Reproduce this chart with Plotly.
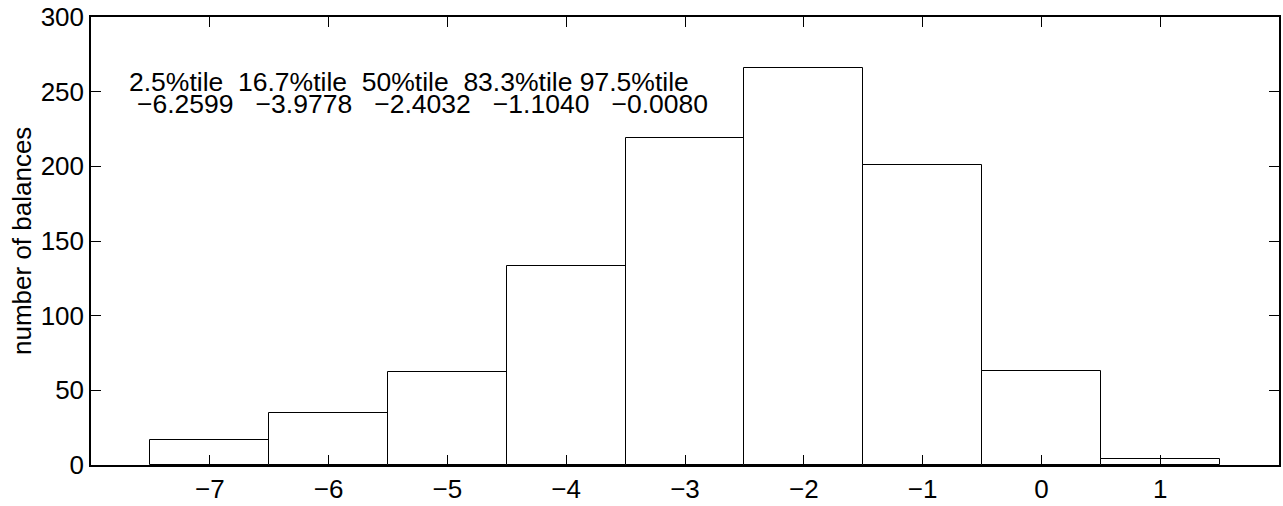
import plotly.graph_objects as go

bin_centers = [-7, -6, -5, -4, -3, -2, -1, 0, 1]
counts = [17, 35, 62, 133, 219, 266, 201, 63, 4]
pct_labels = ["2.5%tile", "16.7%tile", "50%tile", "83.3%tile", "97.5%tile"]
pct_values = ["\u22126.2599", "\u22123.9778", "\u22122.4032", "\u22121.1040", "\u22120.0080"]
x_ticks = [-7, -6, -5, -4, -3, -2, -1, 0, 1]
x_ticklabels = ["\u22127", "\u22126", "\u22125", "\u22124", "\u22123", "\u22122", "\u22121", "0", "1"]
y_ticks = [0, 50, 100, 150, 200, 250, 300]

FONT = "Liberation Sans, Arial, Helvetica, sans-serif"

fig = go.Figure()
fig.add_trace(go.Bar(
    x=bin_centers, y=counts, width=1,
    marker=dict(color="white", line=dict(color="black", width=1)),
    showlegend=False, hoverinfo="x+y",
))

line1 = "  ".join(pct_labels[:4]) + " " + pct_labels[4]
line2 = "   ".join(pct_values)

fig.add_annotation(x=-7.70, y=256.5, xref="x", yref="y", text=line1, showarrow=False,
                   xanchor="left", yanchor="middle", font=dict(family=FONT, size=26.5, color="black"))
fig.add_annotation(x=-7.63, y=242, xref="x", yref="y", text=line2, showarrow=False,
                   xanchor="left", yanchor="middle", font=dict(family=FONT, size=26.5, color="black"))

fig.add_annotation(x=0.0, y=0.5, xref="paper", yref="paper", text="number of balances",
                   textangle=-90, showarrow=False, xanchor="center", yanchor="middle",
                   xshift=-69, font=dict(family=FONT, size=26, color="black"))

fig.update_layout(
    width=1283, height=506,
    margin=dict(l=91, r=2, t=15, b=40),
    plot_bgcolor="white", paper_bgcolor="white",
    bargap=0,
    font=dict(family=FONT, size=26, color="black"),
    xaxis=dict(range=[-8, 2], tickmode="array", tickvals=x_ticks, ticktext=x_ticklabels,
               ticks="inside", ticklen=10, tickwidth=1, tickcolor="black",
               showline=True, linecolor="black", linewidth=1.5, mirror="ticks",
               showgrid=False, zeroline=False, tickfont=dict(size=26, family=FONT, color="black")),
    yaxis=dict(range=[0, 300], tickmode="array", tickvals=y_ticks,
               ticks="inside", ticklen=10, tickwidth=1, tickcolor="black",
               showline=True, linecolor="black", linewidth=1.5, mirror="ticks",
               showgrid=False, zeroline=False, tickfont=dict(size=26, family=FONT, color="black")),
)

fig.write_html("out.html")
